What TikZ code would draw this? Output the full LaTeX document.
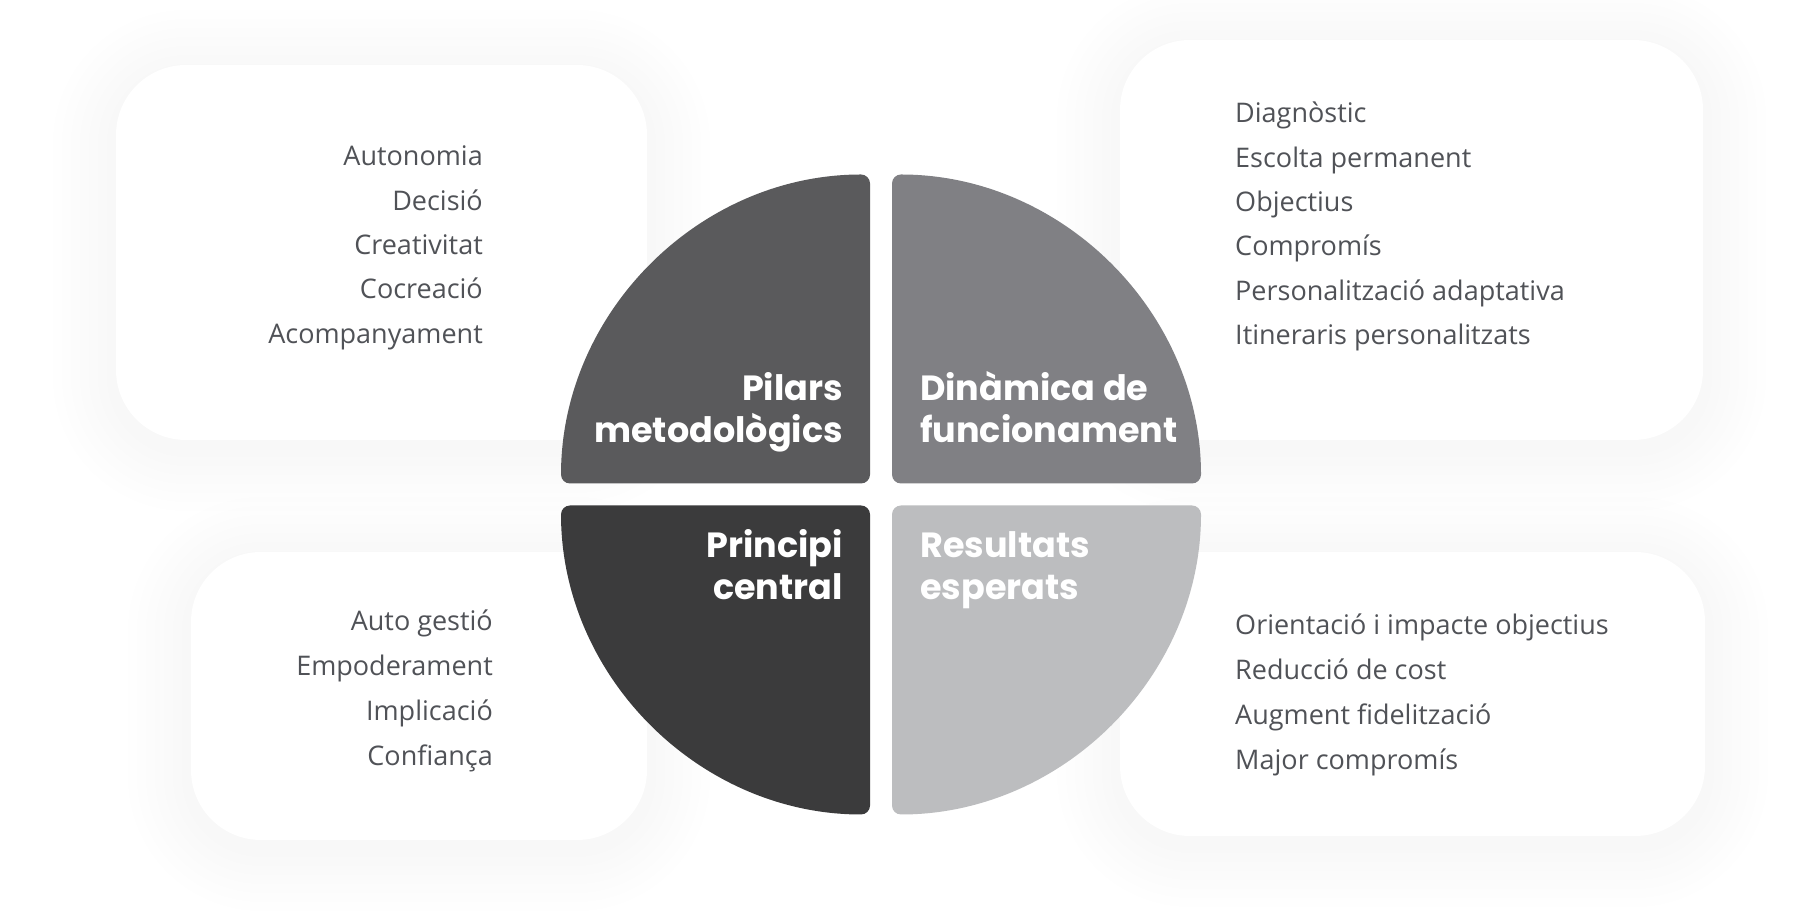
\documentclass[tikz,border=0pt]{standalone}
\usepackage{fontspec}
\setmainfont{Open Sans}
\newfontfamily\headfont{Poppins}
\usetikzlibrary{positioning}

\definecolor{pilarsgray}{HTML}{5A5A5C}
\definecolor{dinamicagray}{HTML}{808084}
\definecolor{principigray}{HTML}{3B3B3C}
\definecolor{resultatsgray}{HTML}{BCBDBF}
\definecolor{itemgray}{HTML}{505257}

\tikzset{
  item/.style={inner sep=0pt, text=itemgray, font=\fontsize{27}{33}\selectfont},
  heading/.style={inner sep=0pt, text=white, font=\headfont\bfseries\fontsize{35}{42}\selectfont},
  quarter/.style={rounded corners=9pt},
}

\begin{document}
\begin{tikzpicture}[x=1pt, y=1pt]
\def \radius {309}
\def \gap {11}

\fill[white] (0,0) rectangle (1811,923);
\useasboundingbox (0,0) rectangle (1811,923);

% soft shadows behind the cards
\foreach \xa/\ya/\xb/\yb in {116/483/647/858, 1120/483/1703/883, 191/83/647/371, 1120/87/1705/371}
  \foreach \k in {1,...,7}
    \fill[black, opacity=0.0045, rounded corners=70+9*\k]
      (\xa-9*\k, \ya-9*\k-8) rectangle (\xb+9*\k, \yb+9*\k-8);

% cards
\foreach \xa/\ya/\xb/\yb in {116/483/647/858, 1120/483/1703/883, 191/83/647/371, 1120/87/1705/371}
  \fill[white, rounded corners=70] (\xa,\ya) rectangle (\xb,\yb);

% the four quarters
\coordinate (c) at (881,428.5);
\fill[pilarsgray, quarter] ([shift={(-\gap,\gap)}]c) -- ++(-\radius,0) arc (180:90:\radius) -- cycle;
\fill[dinamicagray, quarter] ([shift={(\gap,\gap)}]c) -- ++(0,\radius) arc (90:0:\radius) -- cycle;
\fill[principigray, quarter] ([shift={(-\gap,-\gap)}]c) -- ++(0,-\radius) arc (270:180:\radius) -- cycle;
\fill[resultatsgray, quarter] ([shift={(\gap,-\gap)}]c) -- ++(\radius,0) arc (0:-90:\radius) -- cycle;

% anchor base = baseline of the second line
\node[heading, anchor=base east, align=right] (pilars) at (843,480) {Pilars\\metodològics};
\node[heading, anchor=base west, align=left] (dinamica) at (920,480) {Dinàmica de\\funcionament};
\node[heading, anchor=base east, align=right] (principi) at (843,323) {Principi\\central};
\node[heading, anchor=base west, align=left] (resultats) at (920,323) {Resultats\\esperats};

% card texts
\foreach \txt [count=\i] in {Autonomia, Decisió, Creativitat, Cocreació, Acompanyament}
  \node[item, anchor=base east] (pil\i) at (483, 757-44.3*\i+44.3) {\txt};
\foreach \txt [count=\i] in {Diagnòstic, Escolta permanent, Objectius, Compromís, Personalització adaptativa, Itineraris personalitzats}
  \node[item, anchor=base west] (din\i) at (1235, 800-44.3*\i+44.3) {\txt};
\foreach \txt [count=\i] in {Auto gestió, Empoderament, Implicació, Confiança}
  \node[item, anchor=base east] (pri\i) at (493, 292-44.7*\i+44.7) {\txt};
\foreach \txt [count=\i] in {Orientació i impacte objectius, Reducció de cost, Augment fidelització, Major compromís}
  \node[item, anchor=base west] (res\i) at (1235, 288-44.7*\i+44.7) {\txt};

\end{tikzpicture}
\end{document}
